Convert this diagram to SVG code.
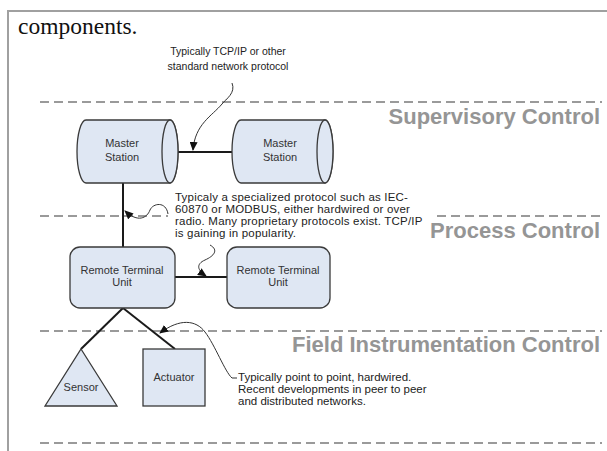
<svg xmlns="http://www.w3.org/2000/svg" width="607" height="451" viewBox="0 0 607 451">
<defs>
<style>
.frame{stroke:#a0a0a0;stroke-width:2;fill:none}
.dash{stroke:#7a7a7a;stroke-width:1.6;stroke-dasharray:9 5;fill:none}
.node{fill:#dfe7f3;stroke:#3a3a3a;stroke-width:1.3}
.conn{stroke:#1a1a1a;stroke-width:2;fill:none}
.note{stroke:#333;stroke-width:1;fill:none}
.lbl{font-family:"Liberation Sans",Arial,sans-serif;font-size:11px;fill:#333;text-anchor:middle}
.ann{font-family:"Liberation Sans",Arial,sans-serif;font-size:11.5px;fill:#222}
.ann2{font-family:"Liberation Sans",Arial,sans-serif;font-size:11.5px;letter-spacing:0.2px;fill:#222}
.top{font-family:"Liberation Sans",Arial,sans-serif;font-size:10.5px;fill:#222;text-anchor:middle}
.lvl{font-family:"Liberation Sans",Arial,sans-serif;font-size:22px;font-weight:bold;fill:#959595;text-anchor:end}
</style>
<marker id="ah" markerUnits="userSpaceOnUse" markerWidth="9" markerHeight="8" refX="8" refY="4" orient="auto">
<path d="M0,0 L9,4 L0,8 Z" fill="#111"/>
</marker>
</defs>
<rect width="607" height="451" fill="#fff"/>
<path class="frame" d="M8,451 L8,11 L607,11"/>
<text x="18" y="34" font-family="Liberation Serif,'Times New Roman',serif" font-size="23.5" fill="#111">components.</text>

<g id="levels">
<path class="dash" d="M40,102 L602,102"/>
<path class="dash" d="M40,216 L168,216 M437,216 L602,216"/>
<path class="dash" d="M40,331 L602,331"/>
<path class="dash" d="M40,443 L602,443"/>
<text class="lvl" x="600" y="124">Supervisory Control</text>
<text class="lvl" x="600" y="238">Process Control</text>
<text class="lvl" x="600" y="352">Field Instrumentation Control</text>
</g>

<g id="connectors">
<path class="conn" d="M178,152 L233,152"/>
<path class="conn" d="M123,183 L123,247"/>
<path class="conn" d="M175,277 L227,277"/>
<path class="conn" d="M123,308 L81,349"/>
<path class="conn" d="M123,308 L175,349"/>
</g>

<g id="master1">
<path class="node" d="M86,120 L170,120 A8,31.5 0 0 1 170,183 L86,183 A9,31.5 0 0 1 86,120 Z"/>
<ellipse class="node" cx="170" cy="151.5" rx="8" ry="31.5"/>
<text class="lbl" x="122" y="147">Master</text>
<text class="lbl" x="122" y="161">Station</text>
</g>
<g id="master2">
<path class="node" d="M241,120 L325,120 A8,31.5 0 0 1 325,183 L241,183 A9,31.5 0 0 1 241,120 Z"/>
<ellipse class="node" cx="325" cy="151.5" rx="8" ry="31.5"/>
<text class="lbl" x="280" y="147">Master</text>
<text class="lbl" x="280" y="161">Station</text>
</g>
<g id="rtu1">
<rect class="node" x="70" y="247" width="105" height="61" rx="10"/>
<text class="lbl" x="122" y="274">Remote Terminal</text>
<text class="lbl" x="122" y="286">Unit</text>
</g>
<g id="rtu2">
<rect class="node" x="227" y="247" width="103" height="61" rx="10"/>
<text class="lbl" x="278" y="274">Remote Terminal</text>
<text class="lbl" x="278" y="286">Unit</text>
</g>
<g id="sensor">
<path class="node" d="M81,349 L117,406 L45,406 Z"/>
<text class="lbl" x="81" y="391">Sensor</text>
</g>
<g id="actuator">
<rect class="node" x="143" y="349" width="62" height="57"/>
<text class="lbl" x="174" y="381">Actuator</text>
</g>

<g id="note-supervisory">
<text class="top" x="228" y="55">Typically TCP/IP or other</text>
<text class="top" x="228" y="70">standard network protocol</text>
<path class="note" marker-end="url(#ah)" d="M232,83 C236,93 226,99 222,104 C212,116 195,124 193,150"/>
</g>
<g id="note-process">
<text class="ann2" x="175" y="201">Typicaly a specialized protocol such as IEC-</text>
<text class="ann2" x="175" y="213">60870 or MODBUS, either hardwired or over</text>
<text class="ann2" x="175" y="225">radio.  Many proprietary protocols exist.  TCP/IP</text>
<text class="ann2" x="175" y="237">is gaining in popularity.</text>
<path class="note" marker-end="url(#ah)" d="M168,214 C166,201 153,203 150,210 C147,218 138,223 125,211"/>
<path class="note" marker-end="url(#ah)" d="M210,245 C219,250 214,256 205,260 C196,264 197,270 206,276"/>
</g>
<g id="note-field">
<text class="ann" x="238" y="381">Typically point to point, hardwired.</text>
<text class="ann" x="238" y="393">Recent developments in peer to peer</text>
<text class="ann" x="238" y="405">and distributed networks.</text>
<path class="note" marker-end="url(#ah)" d="M237,378 L232,378 C225,372 215,345 205,332 C196,320 180,318 160,333"/>
</g>
</svg>
